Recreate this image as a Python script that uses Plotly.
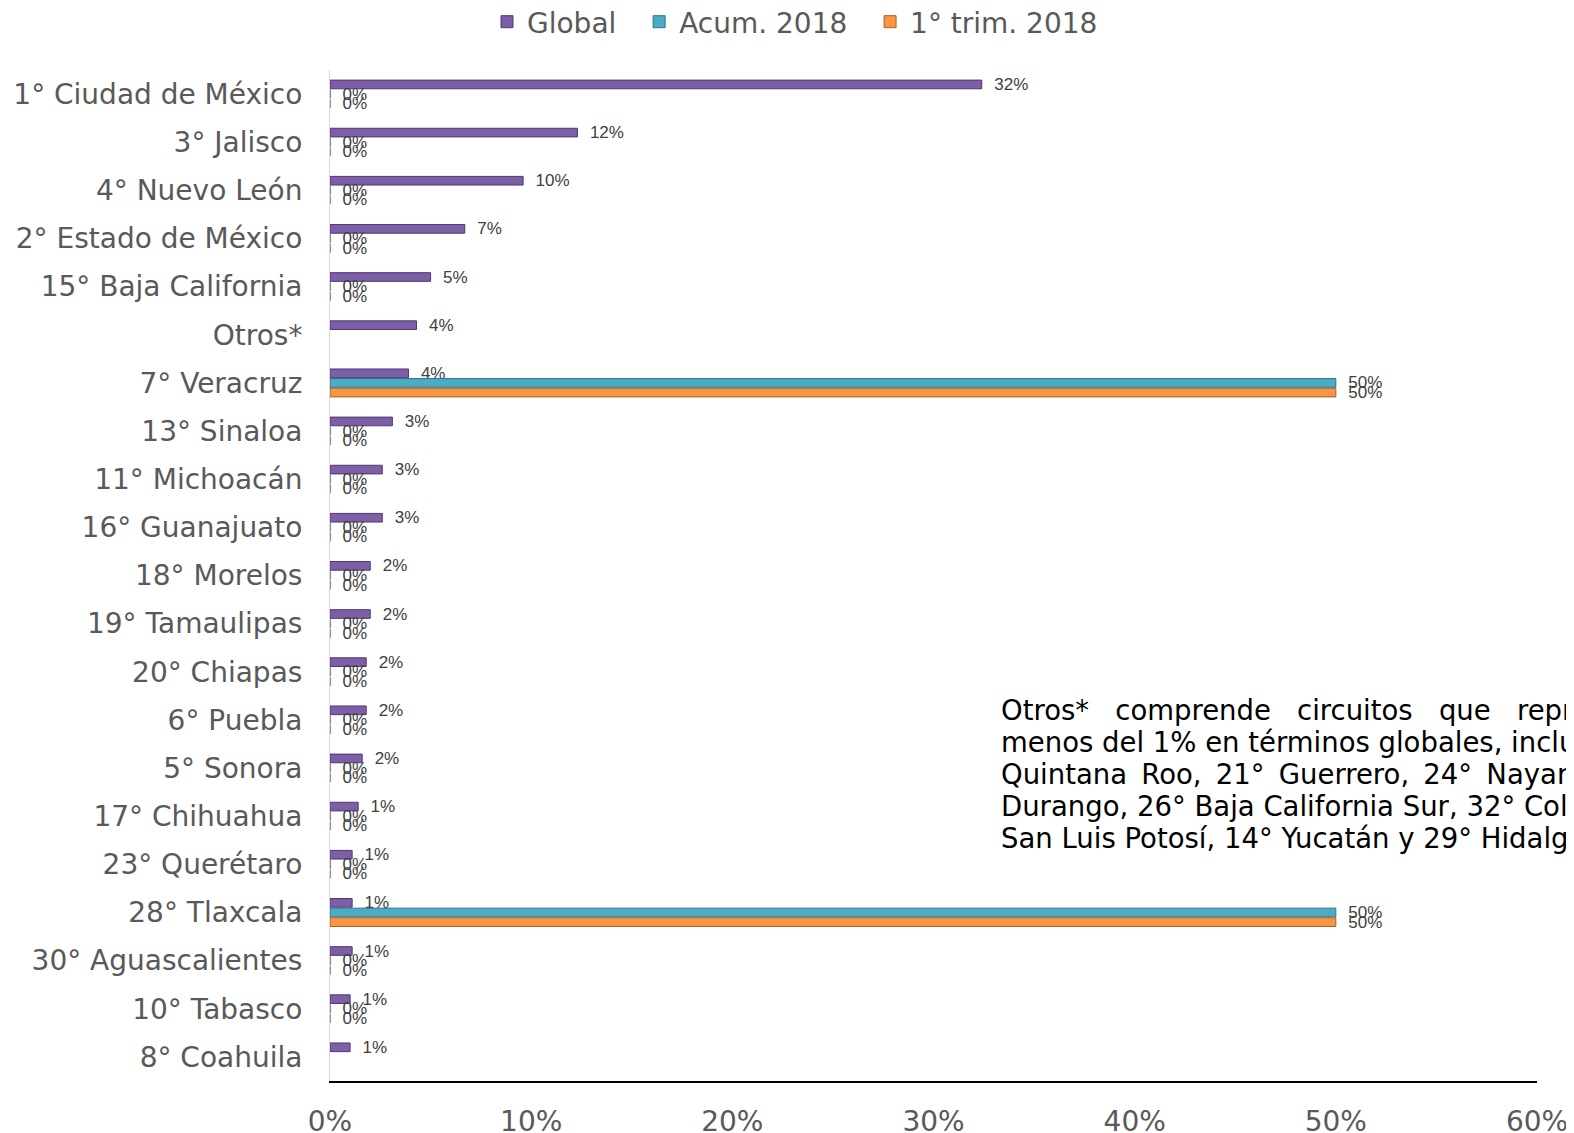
import plotly.graph_objects as go

estados = [
    "1° Ciudad de México", "3° Jalisco", "4° Nuevo León", "2° Estado de México",
    "15° Baja California", "Otros*", "7° Veracruz", "13° Sinaloa", "11° Michoacán",
    "16° Guanajuato", "18° Morelos", "19° Tamaulipas", "20° Chiapas", "6° Puebla",
    "5° Sonora", "17° Chihuahua", "23° Querétaro", "28° Tlaxcala",
    "30° Aguascalientes", "10° Tabasco", "8° Coahuila",
]
global_pct = [
    0.324, 0.123, 0.096, 0.067, 0.050, 0.043, 0.039, 0.031, 0.026, 0.026, 0.020,
    0.020, 0.018, 0.018, 0.016, 0.014, 0.011, 0.011, 0.011, 0.010, 0.010,
]
acum_2018 = [
    0, 0, 0, 0, 0, None, 0.50, 0, 0, 0, 0, 0, 0, 0, 0, 0, 0, 0.50, 0, 0, None,
]
trim1_2018 = [
    0, 0, 0, 0, 0, None, 0.50, 0, 0, 0, 0, 0, 0, 0, 0, 0, 0, 0.50, 0, 0, None,
]

nb = "\u00a0"
thin = "\u2009"
nota = [
    (nb * 3).join(["Otros*", "comprende", "circuitos", "que", "representan"]),
    "menos del 1% en términos globales, incluyendo 22°",
    (nb + thin).join(["Quintana", "Roo,", "21°", "Guerrero,", "24°", "Nayarit,"]),
    "Durango, 26° Baja California Sur, 32° Colima,",
    "San Luis Potosí, 14° Yucatán y 29° Hidalgo.",
]

series = [
    ("Global" + nb * 2, global_pct, "#7D5FA6", "#4E3873"),
    ("Acum. 2018" + nb * 2, acum_2018, "#4BACC6", "#2B7388"),
    ("1° trim. 2018", trim1_2018, "#F79646", "#A85F25"),
]

fig = go.Figure()
for name, vals, fill, edge in series:
    fig.add_trace(
        go.Bar(
            y=estados,
            x=vals,
            name=name,
            orientation="h",
            marker=dict(color=fill, line=dict(color=edge, width=1)),
            texttemplate=nb * 2 + "%{x:.0%}",
            textposition="outside",
            constraintext="none",
            cliponaxis=False,
            textfont=dict(family="Liberation Sans", size=17, color="#404040"),
        )
    )

# page body has an 8px margin, so the figure is laid out 8px up/left
PLOT_W, PLOT_H = 1207, 1011
for i, line in enumerate(nota):
    fig.add_annotation(
        text=line,
        xref="paper",
        yref="paper",
        x=(991 - 322) / PLOT_W,
        y=(1073 - 702 - 32.1 * i) / PLOT_H,
        xanchor="left",
        yanchor="middle",
        showarrow=False,
        font=dict(family="DejaVu Sans", size=27.5, color="#000000"),
    )

fig.update_layout(
    width=1574,
    height=1133,
    barmode="group",
    bargap=0.4,
    bargroupgap=0.1,
    plot_bgcolor="white",
    paper_bgcolor="white",
    font=dict(family="DejaVu Sans", size=28, color="#595959"),
    margin=dict(l=322, r=45, t=62, b=60),
    legend=dict(
        orientation="h",
        xref="container",
        yref="container",
        x=0.5,
        y=1 - 14 / 1133,
        xanchor="center",
        yanchor="middle",
        font=dict(size=28, color="#595959"),
        traceorder="normal",
    ),
    xaxis=dict(
        range=[0, 0.6],
        dtick=0.1,
        tickformat=".0%",
        showgrid=False,
        zeroline=False,
        showline=True,
        linecolor="#000000",
        linewidth=2,
        ticks="",
        ticklabelstandoff=14,
        automargin=False,
    ),
    yaxis=dict(
        categoryorder="array",
        categoryarray=estados,
        autorange="reversed",
        showgrid=False,
        showline=True,
        linecolor="#D9D9D9",
        linewidth=1,
        ticks="",
        ticklabelstandoff=21,
        automargin=False,
    ),
)

fig.write_html("out.html")
